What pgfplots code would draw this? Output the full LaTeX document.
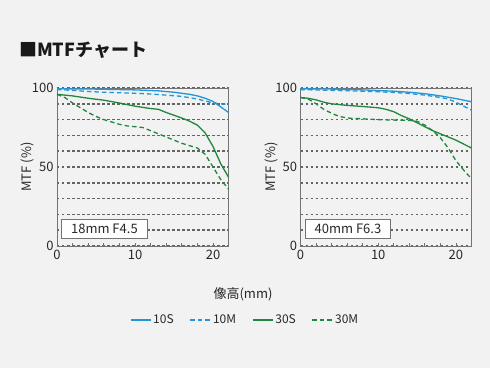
\documentclass[border=0pt]{standalone}
\usepackage{pgfplots}
\pgfplotsset{compat=1.18}
\usepackage{fontspec}
\setmainfont{Noto Sans CJK JP}
\definecolor{bg}{RGB}{242,242,242}
\definecolor{mblue}{RGB}{34,150,214}
\definecolor{mgreen}{RGB}{32,135,62}
\definecolor{framec}{RGB}{115,115,115}
\definecolor{gridc}{RGB}{100,100,100}
\definecolor{txt}{RGB}{40,40,40}

\pgfplotstableread{
x y
0 99.5
5 99.3
10 98.8
13 98.2
15 97.3
17 96
18 95
19 93.5
20 91.5
21 88
22 84.5
}\LtenS
\pgfplotstableread{
x y
0 99
2 98.5
4 97.8
6 97.3
8 97
10 96.7
12 96.2
14 95.5
16 94.7
18 93
19 91.8
20 90.5
21 90
22 89.5
}\LtenM
\pgfplotstableread{
x y
0 96
2 95
4 93.5
6 92.3
8 90.5
10 88.5
12 87
13 86.5
14 84.5
16 81
17 79
18 76.5
19 71.5
20 63
21 52
22 43.5
}\LthirtyS
\pgfplotstableread{
x y
0 96
1 94
2 90.5
3 87.5
4 84.5
5 82
6 80
7 78.5
8 77
9 76
10 75.5
11 75
12 73
13 71
14 69
15 67
16 65
17 63.5
18 62
19 58
20 50
21 42
22 36
}\LthirtyM
\pgfplotstableread{
x y
0 99.5
4 99.3
8 98.8
12 98
14 97.3
16 96.4
18 95
20 93.3
22 91.3
}\RtenS
\pgfplotstableread{
x y
0 99
4 98.5
8 98
12 97.2
14 96.5
16 95.5
18 94
19 93
20 91
21 88.5
22 86
}\RtenM
\pgfplotstableread{
x y
0 94
1 93.5
2 92.5
3 91
4 90
6 89
8 88.3
10 87.5
11 86.5
12 85
13 82.5
14 80.5
15 78
16 75.5
17 73
18 71
19 69
20 67
21 64.5
22 62
}\RthirtyS
\pgfplotstableread{
x y
0 94
1 93
2 90
3 86.5
4 84
5 82
6 81
8 80.5
10 80
12 79.7
14 79.5
15 79
16 76.5
17 73
18 68.5
19 62
20 54
21 48
22 42.5
}\RthirtyM

\pgfplotsset{mtf/.style={
  scale only axis, height=158pt,
  xmin=0, xmax=22, ymin=0, ymax=100,
  axis line style={draw=framec, line width=0.9pt},
  xtick={0,10,20}, minor xtick={2,4,6,8,12,14,16,18},
  xtick pos=bottom, tick align=inside,
  major tick length=3pt, minor tick length=3pt,
  every tick/.style={draw=framec, line width=0.8pt},
  ytick={0,10,...,100}, yticklabels={0,,,,,50,,,,,100},
  ytick style={draw=none},
  ymajorgrids,
  major grid style={draw=gridc, line width=1.5pt, dash pattern=on 2.5pt off 2.5pt},
  tick label style={font=\fontsize{13}{13}\selectfont, text=txt},
  /pgf/number format/assume math mode=true,
  xticklabel style={yshift=-1pt},
  clip=false,
}}

\begin{document}
\begin{tikzpicture}
\fill[bg] (0,0) rectangle (490pt,368pt);
\node[anchor=west, font=\fontsize{18}{18}\selectfont\bfseries, text=black!90, inner sep=0] at (19pt,318pt) {■MTFチャート};

\begin{axis}[mtf, at={(57pt,122pt)}, anchor=south west, width=171.6pt,
  legend style={at={(axis description cs:1.096,-0.468)}, anchor=center, draw=none, fill=none,
    font=\fontsize{12}{12}\selectfont, text=txt,
    /tikz/every even column/.append style={column sep=14pt}},
  legend columns=4,
  legend image code/.code={\draw[#1] (0pt,0pt) -- (20pt,0pt);},
]
\addplot[mblue, line width=1.3pt] table {\LtenS}; \addlegendentry{10S}
\addplot[mblue, line width=1.3pt, dash pattern=on 4.5pt off 3pt] table {\LtenM}; \addlegendentry{10M}
\addplot[mgreen, line width=1.3pt] table {\LthirtyS}; \addlegendentry{30S}
\addplot[mgreen, line width=1.3pt, dash pattern=on 4.5pt off 3pt] table {\LthirtyM}; \addlegendentry{30M}
\node[draw=framec, fill=white, line width=0.8pt, anchor=south west, minimum width=85pt, minimum height=19pt, inner sep=0,
  font=\fontsize{13}{13}\selectfont, text=txt] at ([xshift=4.5pt,yshift=7pt]axis description cs:0,0) {18mm F4.5};
\end{axis}

\begin{axis}[mtf, at={(300.5pt,122pt)}, anchor=south west, width=171pt]
\addplot[mblue, line width=1.3pt] table {\RtenS};
\addplot[mblue, line width=1.3pt, dash pattern=on 4.5pt off 3pt] table {\RtenM};
\addplot[mgreen, line width=1.3pt] table {\RthirtyS};
\addplot[mgreen, line width=1.3pt, dash pattern=on 4.5pt off 3pt] table {\RthirtyM};
\node[draw=framec, fill=white, line width=0.8pt, anchor=south west, minimum width=85pt, minimum height=19pt, inner sep=0,
  font=\fontsize{13}{13}\selectfont, text=txt] at ([xshift=4.5pt,yshift=7pt]axis description cs:0,0) {40mm F6.3};
\end{axis}

\node[rotate=90, font=\fontsize{13}{13}\selectfont, text=txt] at (27pt,201pt) {MTF (\%)};
\node[rotate=90, font=\fontsize{13}{13}\selectfont, text=txt] at (271pt,201pt) {MTF (\%)};
\node[font=\fontsize{13}{13}\selectfont, text=txt] at (243pt,74pt) {像高(mm)};
\useasboundingbox (0,0) rectangle (490pt,368pt);
\end{tikzpicture}
\end{document}
